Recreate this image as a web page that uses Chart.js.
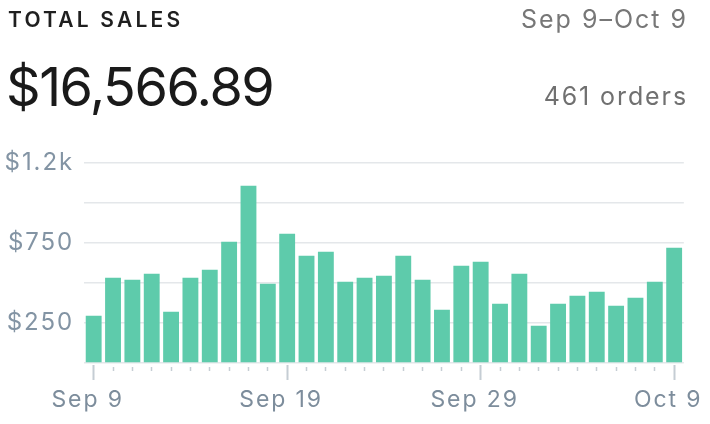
<!DOCTYPE html>
<html lang="en">

<head>
    <meta charset="UTF-8">
    <title>Total Sales</title>
    <script src="https://cdn.jsdelivr.net/npm/chart.js@4.4.1/dist/chart.umd.min.js"></script>
    <style>
        body { margin: 0; background: #fff; }
        #wrap { position: relative; width: 710px; height: 424px; overflow: hidden; font-family: Inter, Roboto, sans-serif; }
        #salesChart { position: absolute; left: 0; top: 0; }
        .hdr { position: absolute; white-space: nowrap; line-height: 1; }
        #title { left: 8px; top: 9px; font-size: 21px; font-weight: 600; letter-spacing: 3.2px; color: #1f1f1f; }
        #range { right: 22px; top: 7px; font-size: 25px; color: #777; letter-spacing: 2px; }
        #total { left: 6px; top: 60px; font-size: 54px; color: #1a1a1a; letter-spacing: -1.5px; }
        #orders { right: 22px; top: 84px; font-size: 25px; color: #707070; letter-spacing: 1.9px; }
    </style>

    <script>
        // daily sales, Sep 9 - Oct 9
        const days = ['Sep 9', 'Sep 10', 'Sep 11', 'Sep 12', 'Sep 13', 'Sep 14', 'Sep 15', 'Sep 16',
            'Sep 17', 'Sep 18', 'Sep 19', 'Sep 20', 'Sep 21', 'Sep 22', 'Sep 23', 'Sep 24', 'Sep 25',
            'Sep 26', 'Sep 27', 'Sep 28', 'Sep 29', 'Sep 30', 'Oct 1', 'Oct 2', 'Oct 3', 'Oct 4',
            'Oct 5', 'Oct 6', 'Oct 7', 'Oct 8', 'Oct 9'];
        const sales = [296, 533, 521, 558, 321, 533, 583, 758, 1108, 496, 808, 671, 696, 508,
            533, 546, 671, 521, 333, 608, 633, 371, 558, 233, 371, 421, 446, 358, 408, 508, 721];
        const labeledDays = ['Sep 9', 'Sep 19', 'Sep 29', 'Oct 9'];
        const yTickValues = [250, 750, 1250];
        const yTickLabels = ['$250', '$750', '$1.2k'];

        // wider tracking for the axis labels
        const trackingPlugin = {
            id: 'tracking',
            beforeDraw(chart) { chart.ctx.letterSpacing = '1.9px'; }
        };

        window.onload = function () {
            const ctx = document.getElementById('salesChart').getContext('2d');
            const isMajor = (i) => labeledDays.includes(days[i]);

            new Chart(ctx, {
                type: 'bar',
                data: {
                    labels: days,
                    datasets: [{
                        data: sales,
                        backgroundColor: '#5ecbab',
                        barPercentage: 0.82,
                        categoryPercentage: 1
                    }]
                },
                plugins: [trackingPlugin],
                options: {
                    responsive: false,
                    animation: false,
                    layout: { padding: { top: 163, right: 22, left: 0, bottom: 0 } },
                    plugins: { legend: { display: false }, tooltip: { enabled: false } },
                    scales: {
                        x: {
                            border: { display: false },
                            grid: {
                                offset: false,
                                drawOnChartArea: false,
                                tickLength: 17,
                                tickColor: '#c5cdd4',
                                tickWidth: (c) => isMajor(c.index) ? 2 : 1.5,
                                tickBorderDash: (c) => isMajor(c.index) ? [0, 2, 15, 50] : [0, 4, 4, 50]
                            },
                            ticks: {
                                autoSkip: false,
                                maxRotation: 0,
                                padding: 6,
                                labelOffset: -6,
                                color: '#7d8d9c',
                                font: { family: 'Inter', size: 23 },
                                callback: function (value, i) {
                                    return isMajor(i) ? days[i] : '';
                                }
                            },
                            afterFit: function (scale) { scale.height = 61; }
                        },
                        y: {
                            min: 0,
                            max: 1250,
                            border: { display: false },
                            grid: { color: '#e4e7ea', lineWidth: 1.5, drawTicks: false },
                            ticks: {
                                stepSize: 250,
                                padding: 10,
                                color: '#8394a4',
                                font: { family: 'Inter', size: 24 },
                                callback: function (value) {
                                    const k = yTickValues.indexOf(value);
                                    return k >= 0 ? yTickLabels[k] : '';
                                }
                            },
                            afterFit: function (scale) { scale.width = 84; }
                        }
                    }
                }
            });
        }
    </script>
</head>

<body>
    <div id="wrap">
        <canvas id="salesChart" width="710" height="424"></canvas>
        <div class="hdr" id="title">TOTAL SALES</div>
        <div class="hdr" id="range">Sep 9–Oct 9</div>
        <div class="hdr" id="total">$16,566.89</div>
        <div class="hdr" id="orders">461 orders</div>
    </div>
</body>

</html>
